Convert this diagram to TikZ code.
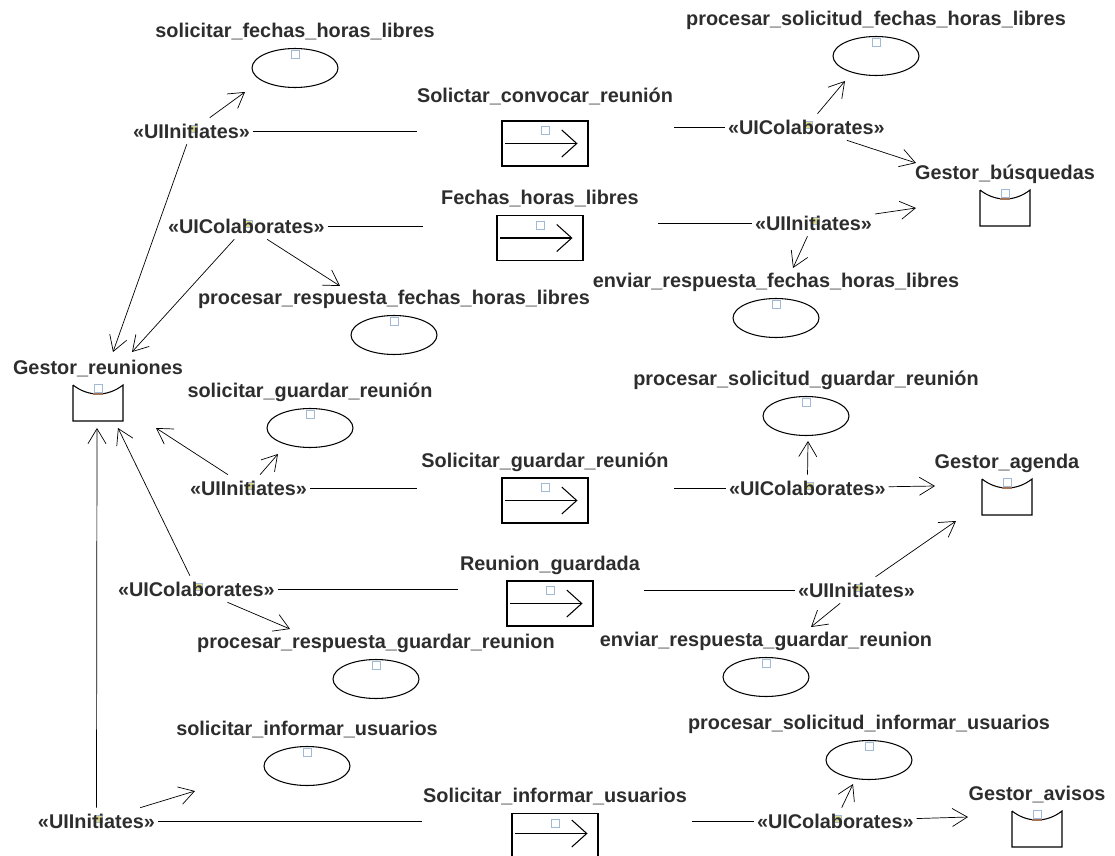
\documentclass[tikz,border=0pt]{standalone}
\usepackage{fontspec}
\setmainfont{Liberation Sans}
\usetikzlibrary{arrows.meta,shapes.geometric}
\definecolor{txtgray}{RGB}{45,45,45}
\definecolor{markblue}{RGB}{160,185,215}
\definecolor{markyellow}{RGB}{225,220,150}
\definecolor{arcbrown}{RGB}{165,115,85}
\pgfdeclarelayer{background}
\pgfsetlayers{background,main}

\begin{document}
\begin{tikzpicture}[x=0.02cm,y=-0.02cm,line width=0.6pt,
  every node/.style={font=\bfseries\fontsize{11.3}{13}\selectfont,text=txtgray},
  usecase/.style={ellipse,draw,minimum width=1.72cm,minimum height=0.78cm,inner sep=0pt},
  signal/.style={rectangle,draw,minimum width=1.72cm,minimum height=0.9cm,inner sep=0pt},
  gestor/.style={rectangle,minimum width=1cm,minimum height=0.72cm,inner sep=0pt,outer sep=0pt},
  lbl/.style={anchor=base,inner sep=0pt},
  stereo/.style={anchor=west,inner sep=0pt,outer xsep=0.06cm,outer ysep=0.12cm},
  anchorsq/.style={draw=markblue,line width=0.5pt},
  flow/.style={-{Straight Barb[length=0.3cm,width=0.36cm]}},
  sigarrow/.style={-{Straight Barb[length=0.3cm,width=0.54cm]}}]
  \useasboundingbox (0,0) rectangle (1115,855);

  \node[usecase] (solFechas) at (295,68) {};
  \node[usecase] (procSolFechas) at (876,56) {};
  \node[usecase] (procRespFechas) at (394,335) {};
  \node[usecase] (envRespFechas) at (776,318) {};
  \node[usecase] (solGuardar) at (310,428) {};
  \node[usecase] (procSolGuardar) at (806,416) {};
  \node[usecase] (procRespGuardar) at (376,679) {};
  \node[usecase] (envRespGuardar) at (766,677) {};
  \node[usecase] (solInformar) at (307,766) {};
  \node[usecase] (procSolInformar) at (869,760) {};

  \node[lbl] (solFechasTxt) at ([yshift=0.2cm]solFechas.north) {solicitar\_fechas\_horas\_libres};
  \node[lbl] (procSolFechasTxt) at ([yshift=0.2cm]procSolFechas.north) {procesar\_solicitud\_fechas\_horas\_libres};
  \node[lbl] (procRespFechasTxt) at ([yshift=0.2cm]procRespFechas.north) {procesar\_respuesta\_fechas\_horas\_libres};
  \node[lbl] (envRespFechasTxt) at ([yshift=0.2cm]envRespFechas.north) {enviar\_respuesta\_fechas\_horas\_libres};
  \node[lbl] (solGuardarTxt) at ([yshift=0.2cm]solGuardar.north) {solicitar\_guardar\_reunión};
  \node[lbl] (procSolGuardarTxt) at ([yshift=0.2cm]procSolGuardar.north) {procesar\_solicitud\_guardar\_reunión};
  \node[lbl] (procRespGuardarTxt) at ([yshift=0.2cm]procRespGuardar.north) {procesar\_respuesta\_guardar\_reunion};
  \node[lbl] (envRespGuardarTxt) at ([yshift=0.2cm]envRespGuardar.north) {enviar\_respuesta\_guardar\_reunion};
  \node[lbl] (solInformarTxt) at ([yshift=0.2cm]solInformar.north) {solicitar\_informar\_usuarios};
  \node[lbl] (procSolInformarTxt) at ([yshift=0.2cm]procSolInformar.north) {procesar\_solicitud\_informar\_usuarios};

  \foreach \u in {solFechas,procSolFechas,procRespFechas,envRespFechas,solGuardar,
                  procSolGuardar,procRespGuardar,envRespGuardar,solInformar,procSolInformar}
    \draw[anchorsq] ([yshift=-0.12cm]\u.north) +(-0.08cm,-0.08cm) rectangle +(0.08cm,0.08cm);

  \node[signal] (convocar) at (545,143.5) {};
  \node[signal] (fechasLibres) at (540,238) {};
  \node[signal] (guardar) at (545,500.5) {};
  \node[signal] (guardada) at (550,603.5) {};
  \node[signal] (informar) at (555,836) {};

  \node[lbl] (convocarTxt) at ([yshift=0.36cm]convocar.north) {Solictar\_convocar\_reunión};
  \node[lbl] (fechasLibresTxt) at ([yshift=0.2cm]fechasLibres.north) {Fechas\_horas\_libres};
  \node[lbl] (guardarTxt) at ([yshift=0.2cm]guardar.north) {Solicitar\_guardar\_reunión};
  \node[lbl] (guardadaTxt) at ([yshift=0.2cm]guardada.north) {Reunion\_guardada};
  \node[lbl] (informarTxt) at ([yshift=0.2cm]informar.north) {Solicitar\_informar\_usuarios};

  \foreach \s in {convocar,fechasLibres,guardar,guardada} {
    \draw[sigarrow] ([xshift=0.08cm]\s.west) -- ([xshift=-0.22cm]\s.east);
    \draw[anchorsq] ([yshift=-0.2cm]\s.north) +(-0.08cm,-0.08cm) rectangle +(0.08cm,0.08cm);
  }
  \draw[sigarrow] ([xshift=0.08cm,yshift=0.05cm]informar.west) -- ([xshift=-0.22cm,yshift=0.05cm]informar.east);
  \draw[anchorsq] ([yshift=-0.2cm]informar.north) +(-0.08cm,-0.08cm) rectangle +(0.08cm,0.08cm);

  \node[gestor] (gReuniones) at (98,403) {};
  \node[gestor] (gBusquedas) at (1005,208) {};
  \node[gestor] (gAgenda) at (1007,497) {};
  \node[gestor] (gAvisos) at (1037,829) {};

  \node[lbl] (gReunionesTxt) at ([yshift=0.22cm]gReuniones.north) {Gestor\_reuniones};
  \node[lbl] (gBusquedasTxt) at ([yshift=0.22cm]gBusquedas.north) {Gestor\_búsquedas};
  \node[lbl] (gAgendaTxt) at ([yshift=0.22cm]gAgenda.north) {Gestor\_agenda};
  \node[lbl] (gAvisosTxt) at ([yshift=0.22cm]gAvisos.north) {Gestor\_avisos};

  \foreach \g in {gReuniones,gBusquedas,gAgenda,gAvisos} {
    \draw (\g.north west) -- (\g.south west) -- (\g.south east) -- (\g.north east)
      to[bend left=38] (\g.north west);
    \draw[arcbrown] ([xshift=-0.1cm,yshift=-0.18cm]\g.north) -- ++(0.2cm,0);
    \draw[anchorsq] ([yshift=-0.06cm]\g.north) +(-0.08cm,-0.08cm) rectangle +(0.08cm,0.08cm);
  }

  \node[stereo] (ini1) at (130,131) {«UIInitiates»};
  \node[stereo] (col1) at (165,226) {«UIColaborates»};
  \node[stereo] (col2) at (725,127) {«UIColaborates»};
  \node[stereo] (ini2) at (752,223) {«UIInitiates»};
  \node[stereo] (ini3) at (187,488) {«UIInitiates»};
  \node[stereo] (col3) at (726,488) {«UIColaborates»};
  \node[stereo] (col4) at (115,589) {«UIColaborates»};
  \node[stereo] (ini4) at (795,590) {«UIInitiates»};
  \node[stereo] (ini5) at (35,821) {«UIInitiates»};
  \node[stereo] (col5) at (754,821) {«UIColaborates»};

  \begin{pgfonlayer}{background}
    \foreach \s in {ini1,col1,col2,ini2,ini3,col3,col4,ini4,ini5,col5}
      \draw[anchorsq,fill=markyellow] ([shift={(0.05cm,0.05cm)}]\s.center) +(-0.07cm,-0.07cm) rectangle +(0.07cm,0.07cm);
  \end{pgfonlayer}

  \coordinate (convocarIn) at (417,131);
  \coordinate (convocarOut) at (674,127);
  \coordinate (fechasIn) at (423,226);
  \coordinate (fechasOut) at (658,223);
  \coordinate (guardarIn) at (417,488);
  \coordinate (guardarOut) at (674,488);
  \coordinate (guardadaIn) at (458,589);
  \coordinate (guardadaOut) at (644,590);
  \coordinate (informarIn) at (422,821);
  \coordinate (informarOut) at (692,821);

  \coordinate (toSolFechas) at (245,92);
  \coordinate (toReuniones1) at (113,352);
  \coordinate (toReuniones2) at (132,352);
  \coordinate (toProcRespFechas) at (340,286);
  \coordinate (toProcSolFechas) at (845,81);
  \coordinate (toBusquedas1) at (916,163);
  \coordinate (toBusquedas2) at (916,208);
  \coordinate (toEnvRespFechas) at (793,268);
  \coordinate (toReuniones3) at (156,428);
  \coordinate (toSolGuardar) at (278,454);
  \coordinate (toProcSolGuardar) at (808,441);
  \coordinate (toAgenda1) at (935,486);
  \coordinate (toReuniones4) at (118,428);
  \coordinate (toProcRespGuardar) at (290,629);
  \coordinate (toAgenda2) at (956,521);
  \coordinate (toEnvRespGuardar) at (811,627);
  \coordinate (toReuniones5) at (97,428);
  \coordinate (toSolInformar) at (195,791);
  \coordinate (toProcSolInformar) at (853,784);
  \coordinate (toAvisos) at (968,817);

  \draw (ini1) -- (convocarIn);
  \draw (convocarOut) -- (col2);
  \draw (col1) -- (fechasIn);
  \draw (fechasOut) -- (ini2);
  \draw (ini3) -- (guardarIn);
  \draw (guardarOut) -- (col3);
  \draw (col4) -- (guardadaIn);
  \draw (guardadaOut) -- (ini4);
  \draw (ini5) -- (informarIn);
  \draw (informarOut) -- (col5);

  \draw[flow] (ini1) -- (toSolFechas);
  \draw[flow] (ini1) -- (toReuniones1);
  \draw[flow] (col1) -- (toReuniones2);
  \draw[flow] (col1) -- (toProcRespFechas);
  \draw[flow] (col2) -- (toProcSolFechas);
  \draw[flow] (col2) -- (toBusquedas1);
  \draw[flow] (ini2) -- (toBusquedas2);
  \draw[flow] (ini2) -- (toEnvRespFechas);
  \draw[flow] (ini3) -- (toReuniones3);
  \draw[flow] (ini3) -- (toSolGuardar);
  \draw[flow] (col3) -- (toProcSolGuardar);
  \draw[flow] (col3) -- (toAgenda1);
  \draw[flow] (col4) -- (toReuniones4);
  \draw[flow] (col4) -- (toProcRespGuardar);
  \draw[flow] (ini4) -- (toAgenda2);
  \draw[flow] (ini4) -- (toEnvRespGuardar);
  \draw[flow] (ini5) -- (toReuniones5);
  \draw[flow] (ini5) -- (toSolInformar);
  \draw[flow] (col5) -- (toProcSolInformar);
  \draw[flow] (col5) -- (toAvisos);
\end{tikzpicture}
\end{document}
